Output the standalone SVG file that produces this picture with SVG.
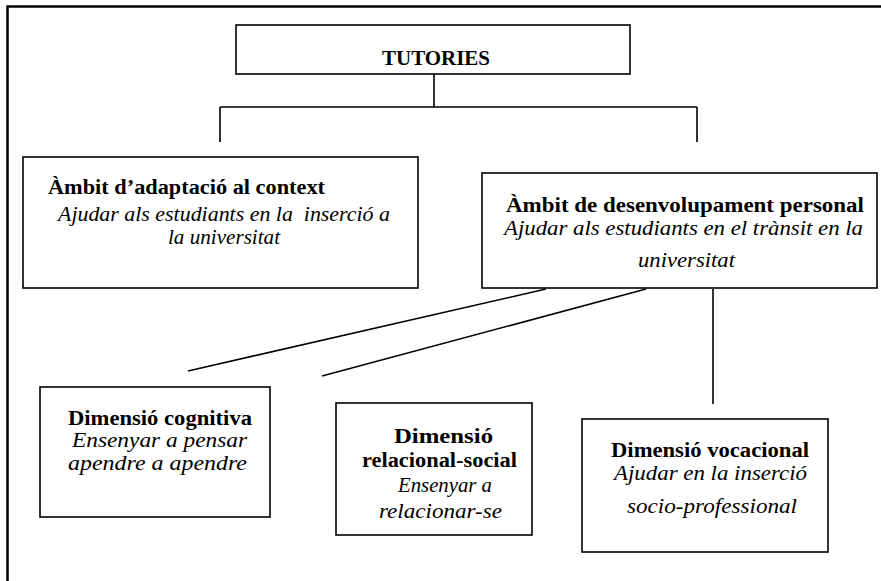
<svg xmlns="http://www.w3.org/2000/svg" width="881" height="581" viewBox="0 0 881 581">
  <style>
    .frame { fill: none; stroke: #000; stroke-width: 2.5; }
    .box { fill: #fff; stroke: #000; stroke-width: 1.6; }
    .link { fill: none; stroke: #000; stroke-width: 1.6; }
    text { font-family: "Liberation Serif", Tinos, "Times New Roman", "DejaVu Serif", serif; font-size: 20px; fill: #000; }
    .t { font-weight: bold; }
    .d { font-style: italic; }
  </style>
  <rect width="881" height="581" fill="#fff"/>
  <!-- outer page frame, running off the right and bottom edges -->
  <rect class="frame" x="7.5" y="6.5" width="900" height="620"/>

  <g id="connectors">
    <path class="link" d="M434 74 V107 M220 107 H697 M220 107 V142 M697 107 V142"/>
    <path class="link" d="M546 289 L188 371"/>
    <path class="link" d="M646 289 L322 376"/>
    <path class="link" d="M713 289 V404"/>
  </g>

  <g id="tutories">
    <rect class="box" x="236" y="25" width="394" height="49"/>
    <text class="t" x="382" y="65" textLength="108" lengthAdjust="spacingAndGlyphs">TUTORIES</text>
  </g>

  <g id="ambit-adaptacio">
    <rect class="box" x="23" y="157" width="395" height="131"/>
    <text class="t" x="48" y="194" textLength="277" lengthAdjust="spacingAndGlyphs">Àmbit d’adaptació al context</text>
    <text class="d" x="58" y="221" textLength="332" lengthAdjust="spacingAndGlyphs" style="white-space:pre">Ajudar als estudiants en la  inserció a</text>
    <text class="d" x="168" y="244" textLength="112" lengthAdjust="spacingAndGlyphs">la universitat</text>
  </g>

  <g id="ambit-desenvolupament">
    <rect class="box" x="482" y="173" width="395" height="115"/>
    <text class="t" x="506" y="212" textLength="358" lengthAdjust="spacingAndGlyphs">Àmbit de desenvolupament personal</text>
    <text class="d" x="504" y="235" textLength="359" lengthAdjust="spacingAndGlyphs">Ajudar als estudiants en el trànsit en la</text>
    <text class="d" x="638" y="267" textLength="97" lengthAdjust="spacingAndGlyphs">universitat</text>
  </g>

  <g id="dimensio-cognitiva">
    <rect class="box" x="40" y="387" width="230" height="130"/>
    <text class="t" x="68" y="425" textLength="184" lengthAdjust="spacingAndGlyphs">Dimensió cognitiva</text>
    <text class="d" x="72" y="447" textLength="175" lengthAdjust="spacingAndGlyphs">Ensenyar a pensar</text>
    <text class="d" x="68" y="470" textLength="179" lengthAdjust="spacingAndGlyphs">apendre a apendre</text>
  </g>

  <g id="dimensio-relacional">
    <rect class="box" x="336" y="403" width="196" height="132"/>
    <text class="t" x="394" y="443" textLength="99" lengthAdjust="spacingAndGlyphs">Dimensió</text>
    <text class="t" x="362" y="467" textLength="155" lengthAdjust="spacingAndGlyphs">relacional-social</text>
    <text class="d" x="398" y="492" textLength="94" lengthAdjust="spacingAndGlyphs">Ensenyar a</text>
    <text class="d" x="379" y="518" textLength="123" lengthAdjust="spacingAndGlyphs">relacionar-se</text>
  </g>

  <g id="dimensio-vocacional">
    <rect class="box" x="582" y="419" width="246" height="133"/>
    <text class="t" x="611" y="457" textLength="198" lengthAdjust="spacingAndGlyphs">Dimensió vocacional</text>
    <text class="d" x="614" y="480" textLength="193" lengthAdjust="spacingAndGlyphs">Ajudar en la inserció</text>
    <text class="d" x="627" y="513" textLength="170" lengthAdjust="spacingAndGlyphs">socio-professional</text>
  </g>
</svg>
